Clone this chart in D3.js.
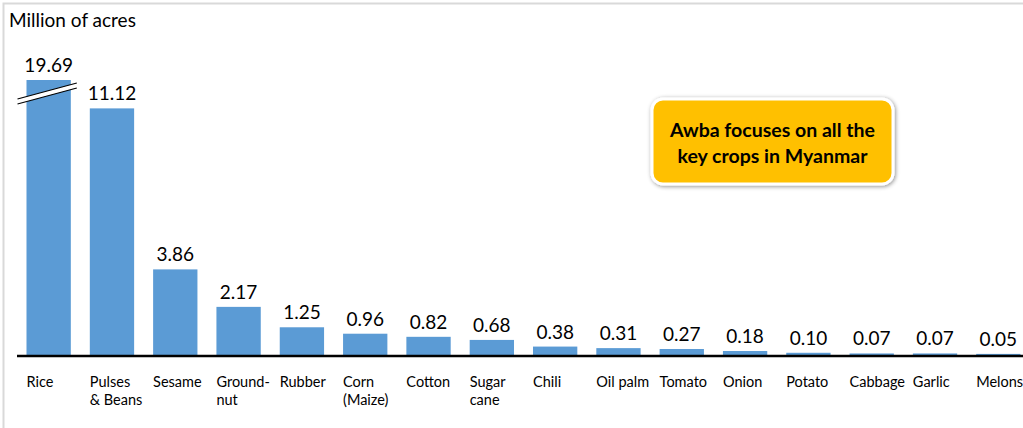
<!DOCTYPE html>
<html>
<head>
<meta charset="utf-8">
<script src="https://cdn.jsdelivr.net/npm/d3@7"></script>
<style>
  body { margin: 0; background: #fff; }
  svg { display: block; font-family: Lato, "Open Sans", sans-serif; }
</style>
</head>
<body>
<script>
// data
const crops = ["Rice", "Pulses\n& Beans", "Sesame", "Ground-\nnut", "Rubber", "Corn\n(Maize)", "Cotton",
  "Sugar\ncane", "Chili", "Oil palm", "Tomato", "Onion", "Potato", "Cabbage", "Garlic", "Melons"];
const acres = [19.69, 11.12, 3.86, 2.17, 1.25, 0.96, 0.82, 0.68, 0.38, 0.31, 0.27, 0.18, 0.10, 0.07, 0.07, 0.05];
const unitLabel = "Million of acres";
const calloutLines = ["Awba focuses on all the", "key crops in Myanmar"];

const W = 1023, H = 428;
const base = 355;

const svg = d3.select("body").append("svg")
  .attr("width", W).attr("height", H);

// frame
svg.append("path")
  .attr("d", `M3.5,${H} V3.5 H${W}`)
  .attr("fill", "none").attr("stroke", "#d9d9d9").attr("stroke-width", 2);

const x = d3.scaleBand()
  .domain(crops)
  .range([17, 1030])
  .paddingInner(0.3)
  .paddingOuter(0.15);

// axis is broken above ~12.4, rice bar is clipped there
const y = d3.scaleLinear()
  .domain([0, 12.4])
  .range([base, 80])
  .clamp(true);

svg.append("text")
  .attr("x", 9).attr("y", 27)
  .attr("font-size", 19).attr("fill", "#000")
  .text(unitLabel);

// bars
svg.selectAll("rect.bar")
  .data(acres)
  .join("rect")
  .attr("class", "bar")
  .attr("x", (d, i) => x(crops[i]))
  .attr("y", d => y(d))
  .attr("width", x.bandwidth())
  .attr("height", d => base - y(d))
  .attr("fill", "#5b9bd5");

// value labels
svg.selectAll("text.val")
  .data(acres)
  .join("text")
  .attr("class", "val")
  .attr("x", (d, i) => x(crops[i]) + x.bandwidth() / 2)
  .attr("y", d => y(d) - 8)
  .attr("text-anchor", "middle")
  .attr("font-size", 19)
  .attr("fill", "#000")
  .text(d => d.toFixed(2));

// break marks across the rice bar
const bx0 = x(crops[0]) - 9, bx1 = x(crops[0]) + x.bandwidth() + 6;
const brk = svg.append("g");
brk.append("path")
  .attr("d", `M${bx0},99 L${bx1},83 L${bx1},88 L${bx0},104 Z`)
  .attr("fill", "#fff");
brk.append("path")
  .attr("d", `M${bx0},99 L${bx1},83 M${bx0},104 L${bx1},88`)
  .attr("stroke", "#000").attr("stroke-width", 1.2).attr("fill", "none");

// baseline
svg.append("line")
  .attr("x1", 17).attr("x2", W)
  .attr("y1", base + 1).attr("y2", base + 1)
  .attr("stroke", "#000").attr("stroke-width", 2.5);

// category labels
const cat = svg.selectAll("text.cat")
  .data(crops)
  .join("text")
  .attr("class", "cat")
  .attr("x", d => x(d))
  .attr("y", 387)
  .attr("font-size", 14.5)
  .attr("fill", "#000");
cat.selectAll("tspan")
  .data(d => d.split("\n").map(s => ({ s, x: x(d) })))
  .join("tspan")
  .attr("x", t => t.x)
  .attr("dy", (t, i) => i === 0 ? 0 : 18)
  .text(t => t.s);

// callout
const defs = svg.append("defs");
const f = defs.append("filter").attr("id", "sh").attr("x", -0.1).attr("y", -0.2).attr("width", 1.2).attr("height", 1.4);
f.append("feDropShadow").attr("dx", 1).attr("dy", 1).attr("stdDeviation", 2).attr("flood-color", "#000").attr("flood-opacity", 0.45);

const cb = { x: 652, y: 99, w: 241, h: 85 };
svg.append("rect")
  .attr("x", cb.x).attr("y", cb.y).attr("width", cb.w).attr("height", cb.h)
  .attr("rx", 11)
  .attr("fill", "#ffc000").attr("stroke", "#fff").attr("stroke-width", 3)
  .attr("filter", "url(#sh)");
svg.append("text")
  .attr("x", cb.x + cb.w / 2).attr("y", cb.y + 38)
  .attr("text-anchor", "middle").attr("font-size", 19.5).attr("font-weight", "bold")
  .attr("fill", "#000")
  .selectAll("tspan").data(calloutLines).join("tspan")
  .attr("x", cb.x + cb.w / 2)
  .attr("dy", (d, i) => i === 0 ? 0 : 26)
  .text(d => d);
</script>
</body>
</html>
